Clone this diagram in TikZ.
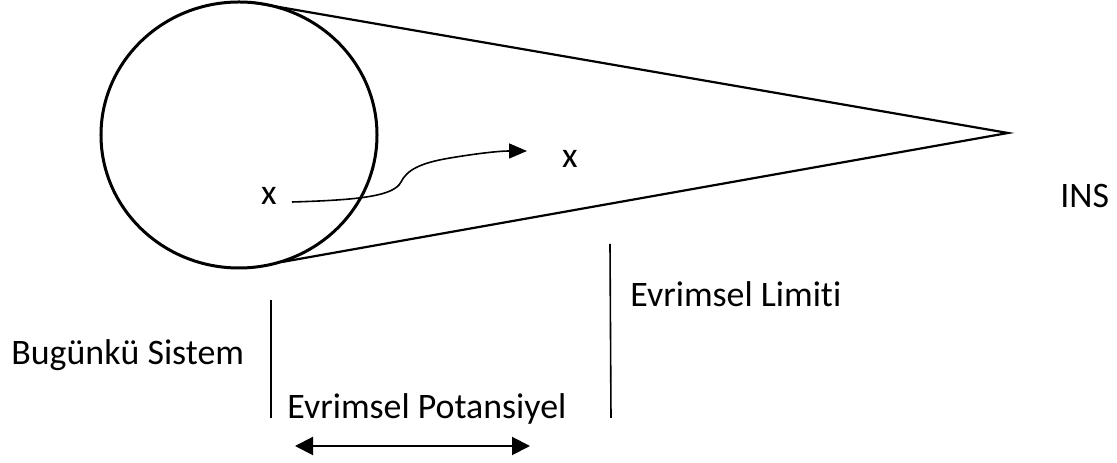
\documentclass[tikz,border=0pt]{standalone}
\usepackage{fontspec}
\setmainfont{Carlito}[Ligatures=NoCommon]
\usetikzlibrary{arrows.meta,shapes.geometric}
\tikzset{
  lbl/.style={font=\fontsize{18}{21}\selectfont, inner sep=0pt, text=black},
  cone/.style={line width=1.1bp, black},
  vline/.style={line width=0.8bp, black},
  arr/.style={line width=0.8bp, black, -{Triangle[length=9bp,width=7.5bp]}},
  darr/.style={line width=1bp, black, {Triangle[length=9bp,width=9bp]}-{Triangle[length=9bp,width=9bp]}}
}
\begin{document}
\begin{tikzpicture}[x=0.5bp,y=-0.5bp]
\useasboundingbox (0,0) rectangle (1117,463);
% cone
\coordinate (ctop) at (250,2);
\coordinate (cbot) at (282,262);
\coordinate (tip) at (1008,133);
\draw[cone] (ctop) -- (tip) -- (cbot);
% circle
\node[ellipse, draw, line width=1.5bp, inner sep=0pt,
      minimum width=138bp, minimum height=133bp] (sys) at (239,135) {};
% x labels
\node[lbl] (x1) at (269,196) {x};
\node[lbl] (x2) at (570,159) {x};
% curved arrow
\coordinate (cs) at (292,202);
\coordinate (ce) at (527,151);
\draw[arr] (cs) .. controls (360,200) and (394,196) .. (401,182)
  .. controls (407,170) and (420,163) .. (450,158)
  .. controls (480,153) and (500,151) .. (ce);
% vertical lines
\coordinate (l1t) at (271,300);
\coordinate (l1b) at (271,418);
\coordinate (l2t) at (610,244);
\coordinate (l2b) at (611,418);
\draw[vline] (l1t) -- (l1b);
\draw[vline] (l2t) -- (l2b);
% double arrow
\coordinate (da) at (295,446);
\coordinate (db) at (530,446);
\draw[darr] (da) -- (db);
% labels
\node[lbl, anchor=west] (bs) at (11,355) {Bugünkü Sistem};
\node[lbl, anchor=west] (el) at (630,294) {Evrimsel Limiti};
\node[lbl, anchor=west] (ep) at (287,409) {Evrimsel Potansiyel};
\node[lbl, anchor=west] (ins) at (1060,196) {INS};
\end{tikzpicture}
\end{document}
